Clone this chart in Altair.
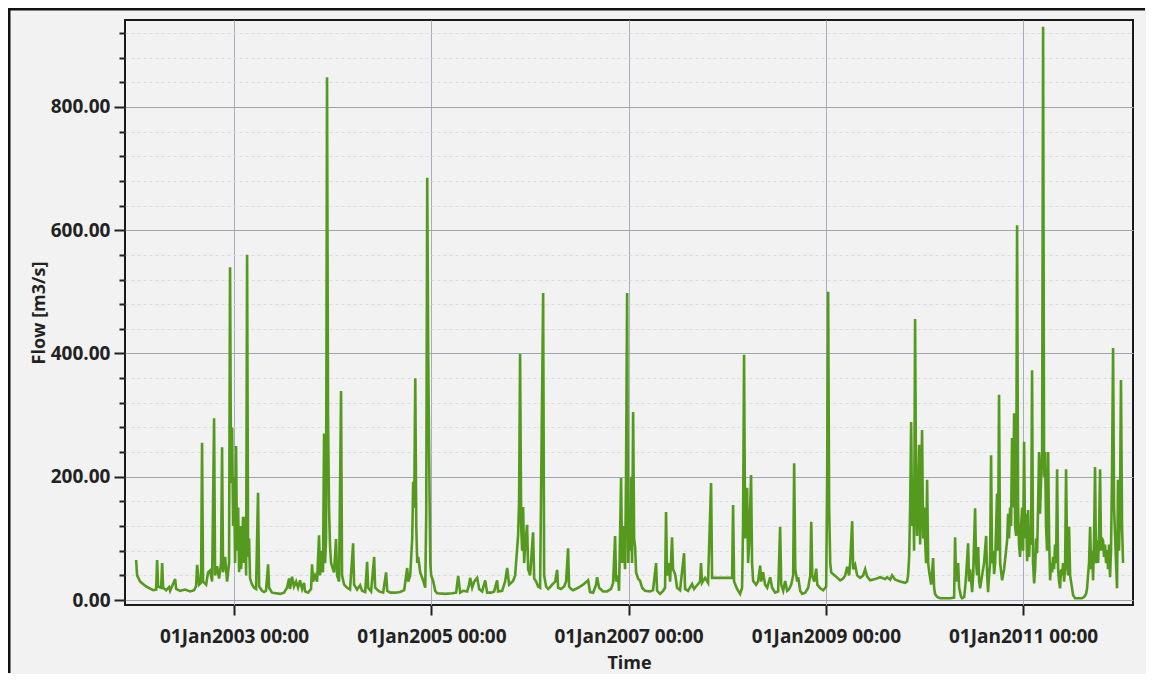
import altair as alt
import pandas as pd

# Flow readings (decimal year, m3/s)
flow_2002 = [(2002.006,65),(2002.016,40),(2002.047,30),(2002.107,22),(2002.178,16),(2002.209,17),
             (2002.219,65),(2002.229,22),(2002.260,20),(2002.270,60),(2002.280,20),(2002.310,16),
             (2002.341,21),(2002.351,15),(2002.402,34),(2002.412,18),(2002.452,15),(2002.503,17),
             (2002.554,14),(2002.594,16),(2002.614,22),(2002.625,57),(2002.645,25),(2002.665,28),
             (2002.675,255),(2002.685,30),(2002.716,25),(2002.736,45),(2002.756,48),(2002.777,30),
             (2002.797,295),(2002.807,40),(2002.827,55),(2002.848,35),(2002.868,60),(2002.878,248),
             (2002.888,45),(2002.909,70),(2002.929,30),(2002.949,60),(2002.959,540),(2002.969,190),
             (2002.980,280),(2002.990,120)]
flow_2003 = [(2003.000,200),(2003.010,60),(2003.020,250),(2003.030,80),(2003.041,150),(2003.051,45),
             (2003.061,120),(2003.071,50),(2003.081,80),(2003.091,135),(2003.101,60),(2003.112,135),
             (2003.122,40),(2003.132,560),(2003.142,70),(2003.152,100),(2003.162,35),(2003.172,30),
             (2003.183,25),(2003.203,20),(2003.223,18),(2003.243,174),(2003.254,22),(2003.284,15),
             (2003.304,13),(2003.324,15),(2003.345,58),(2003.355,20),(2003.385,12),(2003.426,11),
             (2003.466,10),(2003.507,12),(2003.537,20),(2003.558,35),(2003.568,18),(2003.588,38),
             (2003.608,22),(2003.629,30),(2003.649,20),(2003.669,32),(2003.690,18),(2003.710,28),
             (2003.720,14),(2003.750,12),(2003.781,18),(2003.791,58),(2003.801,30),(2003.821,40),
             (2003.842,30),(2003.862,105),(2003.872,40),(2003.892,80),(2003.902,45),(2003.913,270),
             (2003.923,60),(2003.933,100),(2003.943,848),(2003.953,300),(2003.963,150),(2003.973,90),
             (2003.984,60)]
flow_2004 = [(2004.004,50),(2004.014,45),(2004.034,99),(2004.045,40),(2004.065,30),(2004.085,339),
             (2004.095,40),(2004.116,25),(2004.146,20),(2004.176,17),(2004.207,92),(2004.217,25),
             (2004.247,17),(2004.278,24),(2004.298,15),(2004.329,13),(2004.349,62),(2004.359,20),
             (2004.389,14),(2004.420,70),(2004.430,20),(2004.470,14),(2004.511,12),(2004.541,45),
             (2004.552,15),(2004.582,12),(2004.633,12),(2004.683,13),(2004.724,16),(2004.754,52),
             (2004.765,30),(2004.785,40),(2004.805,100),(2004.815,192),(2004.825,150),(2004.836,360),
             (2004.846,120),(2004.856,60),(2004.866,70),(2004.886,45),(2004.917,31),(2004.937,20),
             (2004.947,140),(2004.957,685),(2004.967,400),(2004.977,222),(2004.988,60),(2004.997,40)]
flow_2005 = [(2005.017,31),(2005.038,15),(2005.058,11),(2005.139,10),(2005.210,11),(2005.250,12),
             (2005.271,39),(2005.291,12),(2005.321,15),(2005.362,14),(2005.382,25),(2005.392,36),
             (2005.413,20),(2005.433,30),(2005.463,36),(2005.484,18),(2005.514,14),(2005.545,32),
             (2005.565,12),(2005.605,12),(2005.636,14),(2005.666,32),(2005.676,14),(2005.717,15),
             (2005.747,30),(2005.768,52),(2005.788,25),(2005.808,28),(2005.828,31),(2005.849,40),
             (2005.879,105),(2005.889,160),(2005.899,399),(2005.910,120),(2005.920,80),(2005.930,151),
             (2005.940,60),(2005.950,85),(2005.970,122),(2005.981,50)]
flow_2006 = [(2006.001,40),(2006.031,110),(2006.042,35),(2006.062,30),(2006.082,22),(2006.102,20),
             (2006.133,498),(2006.143,40),(2006.163,22),(2006.184,18),(2006.204,21),(2006.224,25),
             (2006.255,30),(2006.275,49),(2006.285,20),(2006.315,18),(2006.346,22),(2006.366,30),
             (2006.386,84),(2006.396,22),(2006.417,18),(2006.437,16),(2006.488,20),(2006.538,25),
             (2006.589,32),(2006.609,13),(2006.640,12),(2006.670,25),(2006.680,37),(2006.701,20),
             (2006.741,14),(2006.782,14),(2006.822,18),(2006.843,28),(2006.863,104),(2006.873,30),
             (2006.893,40),(2006.903,15),(2006.914,110),(2006.924,198),(2006.934,60),(2006.944,120),
             (2006.964,50),(2006.974,200),(2006.985,498),(2006.995,60)]
flow_2007 = [(2007.005,120),(2007.015,80),(2007.025,200),(2007.035,60),(2007.046,305),(2007.056,100),
             (2007.066,86),(2007.076,45),(2007.096,35),(2007.117,31),(2007.137,20),(2007.167,15),
             (2007.218,14),(2007.248,16),(2007.279,60),(2007.289,15),(2007.319,10),(2007.350,15),
             (2007.370,20),(2007.380,143),(2007.390,40),(2007.411,60),(2007.421,30),(2007.441,102),
             (2007.451,50),(2007.472,42),(2007.492,20),(2007.522,16),(2007.563,76),(2007.573,18),
             (2007.603,15),(2007.644,26),(2007.664,18),(2007.684,22),(2007.705,26),(2007.725,30),
             (2007.735,60),(2007.745,28),(2007.776,36),(2007.806,28),(2007.837,190),(2007.847,36),
             (2007.877,36)]
flow_2008 = [(2008.050,36),(2008.060,154),(2008.070,30),(2008.100,18),(2008.131,10),(2008.151,20),
             (2008.161,120),(2008.171,398),(2008.182,100),(2008.192,150),(2008.202,182),(2008.212,60),
             (2008.222,90),(2008.242,203),(2008.252,60),(2008.263,31),(2008.293,25),(2008.313,30),
             (2008.334,56),(2008.344,30),(2008.364,45),(2008.384,25),(2008.405,20),(2008.435,37),
             (2008.455,20),(2008.486,12),(2008.516,14),(2008.536,119),(2008.547,25),(2008.567,15),
             (2008.587,31),(2008.607,15),(2008.628,18),(2008.648,25),(2008.668,40),(2008.678,222),
             (2008.689,50),(2008.709,30),(2008.719,37),(2008.739,15),(2008.759,10),(2008.790,12),
             (2008.820,20),(2008.841,40),(2008.851,127),(2008.861,40),(2008.881,30),(2008.901,51),
             (2008.912,25),(2008.942,19),(2008.972,16)]
flow_2009 = [(2009.002,22),(2009.012,200),(2009.022,500),(2009.032,150),(2009.043,60),(2009.053,45),
             (2009.073,42),(2009.103,38),(2009.144,32),(2009.174,35),(2009.195,40),(2009.215,54),
             (2009.235,40),(2009.245,60),(2009.266,128),(2009.276,50),(2009.296,57),(2009.316,40),
             (2009.347,36),(2009.377,40),(2009.397,50),(2009.418,38),(2009.448,32),(2009.499,34),
             (2009.550,37),(2009.600,34),(2009.621,37),(2009.651,33),(2009.671,40),(2009.702,33),
             (2009.752,30),(2009.803,28),(2009.823,30),(2009.833,40),(2009.844,70),(2009.854,150),
             (2009.864,289),(2009.874,120),(2009.884,200),(2009.894,80),(2009.904,456),(2009.915,150),
             (2009.925,104),(2009.935,180),(2009.945,252),(2009.955,90),(2009.965,180),(2009.975,276),
             (2009.986,100),(2009.996,150)]
flow_2010 = [(2010.006,97),(2010.016,60),(2010.026,195),(2010.037,60),(2010.047,46),(2010.067,25),
             (2010.087,68),(2010.097,20),(2010.107,10),(2010.128,5),(2010.158,3),(2010.260,3),
             (2010.300,4),(2010.310,102),(2010.320,30),(2010.331,50),(2010.341,60),(2010.351,20),
             (2010.371,5),(2010.381,3),(2010.402,5),(2010.412,20),(2010.422,40),(2010.442,92),
             (2010.452,30),(2010.462,50),(2010.483,13),(2010.493,40),(2010.513,149),(2010.523,60),
             (2010.533,40),(2010.544,86),(2010.554,30),(2010.564,19),(2010.584,40),(2010.604,60),
             (2010.625,104),(2010.635,40),(2010.645,13),(2010.655,40),(2010.665,60),(2010.675,235),
             (2010.685,60),(2010.696,80),(2010.706,42),(2010.716,60),(2010.736,173),(2010.746,80),
             (2010.756,333),(2010.767,60),(2010.787,32),(2010.807,50),(2010.827,80),(2010.838,97),
             (2010.848,140),(2010.858,100),(2010.868,150),(2010.878,120),(2010.888,263),(2010.898,150),
             (2010.909,303),(2010.919,120),(2010.929,104),(2010.939,608),(2010.949,150),(2010.959,90),
             (2010.969,70),(2010.980,120),(2010.990,150)]
flow_2011 = [(2011.000,80),(2011.010,257),(2011.020,100),(2011.030,140),(2011.041,63),(2011.051,146),
             (2011.061,70),(2011.071,120),(2011.081,90),(2011.091,373),(2011.101,60),(2011.112,27),
             (2011.122,50),(2011.132,100),(2011.142,76),(2011.152,150),(2011.162,240),(2011.172,140),
             (2011.183,200),(2011.193,240),(2011.203,930),(2011.213,200),(2011.223,240),(2011.233,120),
             (2011.243,80),(2011.254,240),(2011.264,100),(2011.274,32),(2011.284,60),(2011.294,45),
             (2011.304,70),(2011.314,50),(2011.324,90),(2011.335,60),(2011.345,212),(2011.355,50),
             (2011.365,30),(2011.375,19),(2011.385,50),(2011.395,40),(2011.406,60),(2011.416,30),
             (2011.426,50),(2011.436,212),(2011.446,80),(2011.456,40),(2011.466,119),(2011.477,40),
             (2011.497,19),(2011.507,8),(2011.527,3),(2011.598,3),(2011.618,5),(2011.639,10),
             (2011.649,19),(2011.659,40),(2011.669,60),(2011.680,119),(2011.690,50),(2011.700,80),
             (2011.710,32),(2011.720,100),(2011.730,216),(2011.740,60),(2011.750,97),(2011.761,60),
             (2011.771,110),(2011.781,212),(2011.791,80),(2011.801,100),(2011.811,97),(2011.821,70),
             (2011.831,90),(2011.842,60),(2011.852,81),(2011.862,50),(2011.872,90),(2011.882,37),
             (2011.892,80),(2011.902,200),(2011.913,409),(2011.923,150),(2011.933,104),(2011.943,60),
             (2011.953,19),(2011.963,195),(2011.973,80),(2011.983,150),(2011.993,357),(2012.004,120),
             (2012.014,60)]

x_tick_years = [2003, 2005, 2007, 2009, 2011]
y_tick_values = list(range(0, 921, 40))

readings = (flow_2002 + flow_2003 + flow_2004 + flow_2005 + flow_2006 + flow_2007
            + flow_2008 + flow_2009 + flow_2010 + flow_2011)


def to_time(decimal_year):
    yr = int(decimal_year)
    start = pd.Timestamp(yr, 1, 1)
    end = pd.Timestamp(yr + 1, 1, 1)
    return start + (end - start) * (decimal_year - yr)


df = pd.DataFrame({
    "time": [to_time(t) for t, _ in readings],
    "flow": [v for _, v in readings],
})

FONT = "Open Sans"
TXT = "#222222"
is_major = "datum.value % 200 === 0"

x_axis = alt.Axis(
    values=[alt.DateTime(year=y, month=1, date=1) for y in x_tick_years],
    format="%d%b%Y %H:%M",
    title="Time",
    domain=False,
    grid=True,
    gridColor="#a7acba",
    gridWidth=1,
    ticks=True,
    tickSize=10,
    tickWidth=2,
    tickColor=TXT,
    labelFont=FONT,
    labelFontSize=19,
    labelFontWeight="bold",
    labelColor=TXT,
    labelPadding=12,
    labelFlush=False,
    labelOverlap=False,
    titleFont=FONT,
    titleFontSize=18,
    titleFontWeight="bold",
    titleColor=TXT,
    titlePadding=8,
)

y_axis = alt.Axis(
    values=y_tick_values,
    labelExpr=f"{is_major} ? format(datum.value, '.2f') : ''",
    title="Flow [m3/s]",
    domain=False,
    grid=True,
    gridColor={"condition": {"test": is_major, "value": "#9fa4b2"}, "value": "#d9dbe2"},
    gridDash={"condition": {"test": is_major, "value": []}, "value": [3, 3]},
    gridWidth=1,
    ticks=True,
    tickSize={"condition": {"test": is_major, "value": 11}, "value": 6},
    tickWidth=2,
    tickColor=TXT,
    labelFont=FONT,
    labelFontSize=19,
    labelFontWeight="bold",
    labelColor=TXT,
    labelPadding=4,
    labelOverlap=False,
    titleFont=FONT,
    titleFontSize=18,
    titleFontWeight="bold",
    titleColor=TXT,
    titlePadding=2,
)

line = alt.Chart(df).mark_line(color="#559a1e", strokeWidth=2.6).encode(
    x=alt.X(
        "time:T",
        scale=alt.Scale(domain=[alt.DateTime(year=2001, month=11, date=23),
                                alt.DateTime(year=2012, month=2, date=12)]),
        axis=x_axis,
    ),
    y=alt.Y(
        "flow:Q",
        scale=alt.Scale(domain=[-8, 941], nice=False, zero=False),
        axis=y_axis,
    ),
)

# scanned page border: only its top and left edges are visible in the reference;
# drawn as thin filled bars that stay inside the canvas
one_row = pd.DataFrame({"k": [0]})
border_top = alt.Chart(one_row).mark_rect(color="#111111", strokeWidth=0).encode(
    x=alt.value(-117), x2=alt.value(1020), y=alt.value(-12), y2=alt.value(-9.5)
)
border_left = alt.Chart(one_row).mark_rect(color="#111111", strokeWidth=0).encode(
    x=alt.value(-117), x2=alt.value(-114.5), y=alt.value(-12), y2=alt.value(653)
)

chart = alt.layer(line, border_top, border_left).properties(
    width=1008,
    height=585,
    autosize=alt.AutoSizeParams(type="none"),
    padding={"left": 117, "top": 12, "right": 13, "bottom": 69},
    background="#f2f2f3",
).configure_view(
    stroke="#1a1a1a", strokeWidth=2, fill="#f2f2f3"
)

chart.save("out.html", embed_options={"renderer": "svg", "actions": False})
